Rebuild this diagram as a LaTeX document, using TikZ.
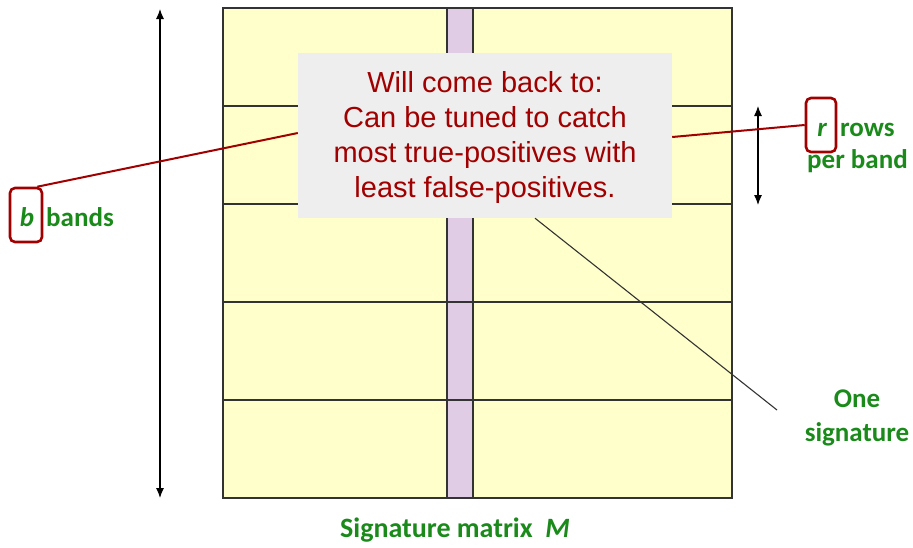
\documentclass[tikz,border=0pt]{standalone}
\usepackage{fontspec}
\setmainfont{Liberation Sans}
\newfontfamily\calib{Carlito}
\usetikzlibrary{arrows.meta}
\definecolor{cellyellow}{HTML}{FFFFCC}
\definecolor{sigpurple}{HTML}{E1CCE6}
\definecolor{labgreen}{HTML}{1A8A1A}
\definecolor{darkred}{HTML}{A00000}
\definecolor{notegray}{HTML}{EEEEEE}
\tikzset{
  grid/.style={draw=black!80, line width=1.2pt},
  lab/.style={text=labgreen, font=\calib\bfseries\fontsize{27}{34}\selectfont, inner sep=0pt},
  hl/.style={draw=darkred, line width=2.6pt, rounded corners=5pt},
  redline/.style={draw=darkred, line width=2pt},
  dimarrow/.style={{Latex[length=10pt,width=8pt]}-{Latex[length=10pt,width=8pt]}, line width=1.1pt},
}
\begin{document}
\begin{tikzpicture}[x=1pt,y=-1pt]
\useasboundingbox (0,0) rectangle (913,547);
% matrix
\fill[cellyellow] (223,8) rectangle (732,498);
\fill[sigpurple] (447,8) rectangle (473,498);
\foreach \y in {106,204,302,400} \draw[grid] (223,\y) -- (732,\y);
\draw[grid] (447,8) -- (447,498);
\draw[grid] (473,8) -- (473,498);
\draw[grid] (223,8) rectangle (732,498);
% arrows
\coordinate (btop) at (160,9);
\coordinate (bbot) at (160,498);
\draw[dimarrow] (btop) -- (bbot);
\coordinate (rtop) at (758,106);
\coordinate (rbot) at (758,205);
\draw[dimarrow] (rtop) -- (rbot);
% signature pointer
\node[lab, align=center] (onesig) at (857,418) {One\\signature};
\coordinate (sigend) at (777,410);
% note box
\node[fill=notegray, minimum width=374pt, minimum height=165pt, inner sep=0pt] (note) at (485,135.5) {};
\draw[black!80, line width=1.1pt] (note.south)++(50,0) coordinate (nfoot) -- (sigend);
\node[text=darkred, font=\fontsize{29}{35}\selectfont, align=center] at (485,137.5) {Will come back to:\\Can be tuned to catch\\most true-positives with\\least false-positives.};
% b label
\node[hl, minimum width=32pt, minimum height=54pt] (bbox) at (26,215) {};
\node[text=labgreen, font=\calib\itshape\bfseries\fontsize{27}{34}\selectfont, inner sep=0pt] (bl) at (27,217) {b};
\node[lab, anchor=west] (bands) at (46,217) {bands};
% r label
\node[hl, minimum width=30pt, minimum height=54pt] (rbox) at (821,125) {};
\node[text=labgreen, font=\calib\itshape\bfseries\fontsize{27}{34}\selectfont, inner sep=0pt] (rl) at (822,130) {r};
\node[lab, anchor=west] (rows) at (840,130) {rows};
\node[lab, anchor=west] (perband) at (807,161) {per band};
% red connectors
\draw[redline] (bbox.north east) ++(-6,0) -- (note.west |- 0,133);
\draw[redline] (rbox.west) -- (note.east |- 0,137);
% caption
\node[lab, anchor=base, font=\calib\bfseries\fontsize{28}{34}\selectfont] (cap) at (455,537) {Signature matrix\ \ \itshape M};
\end{tikzpicture}
\end{document}
